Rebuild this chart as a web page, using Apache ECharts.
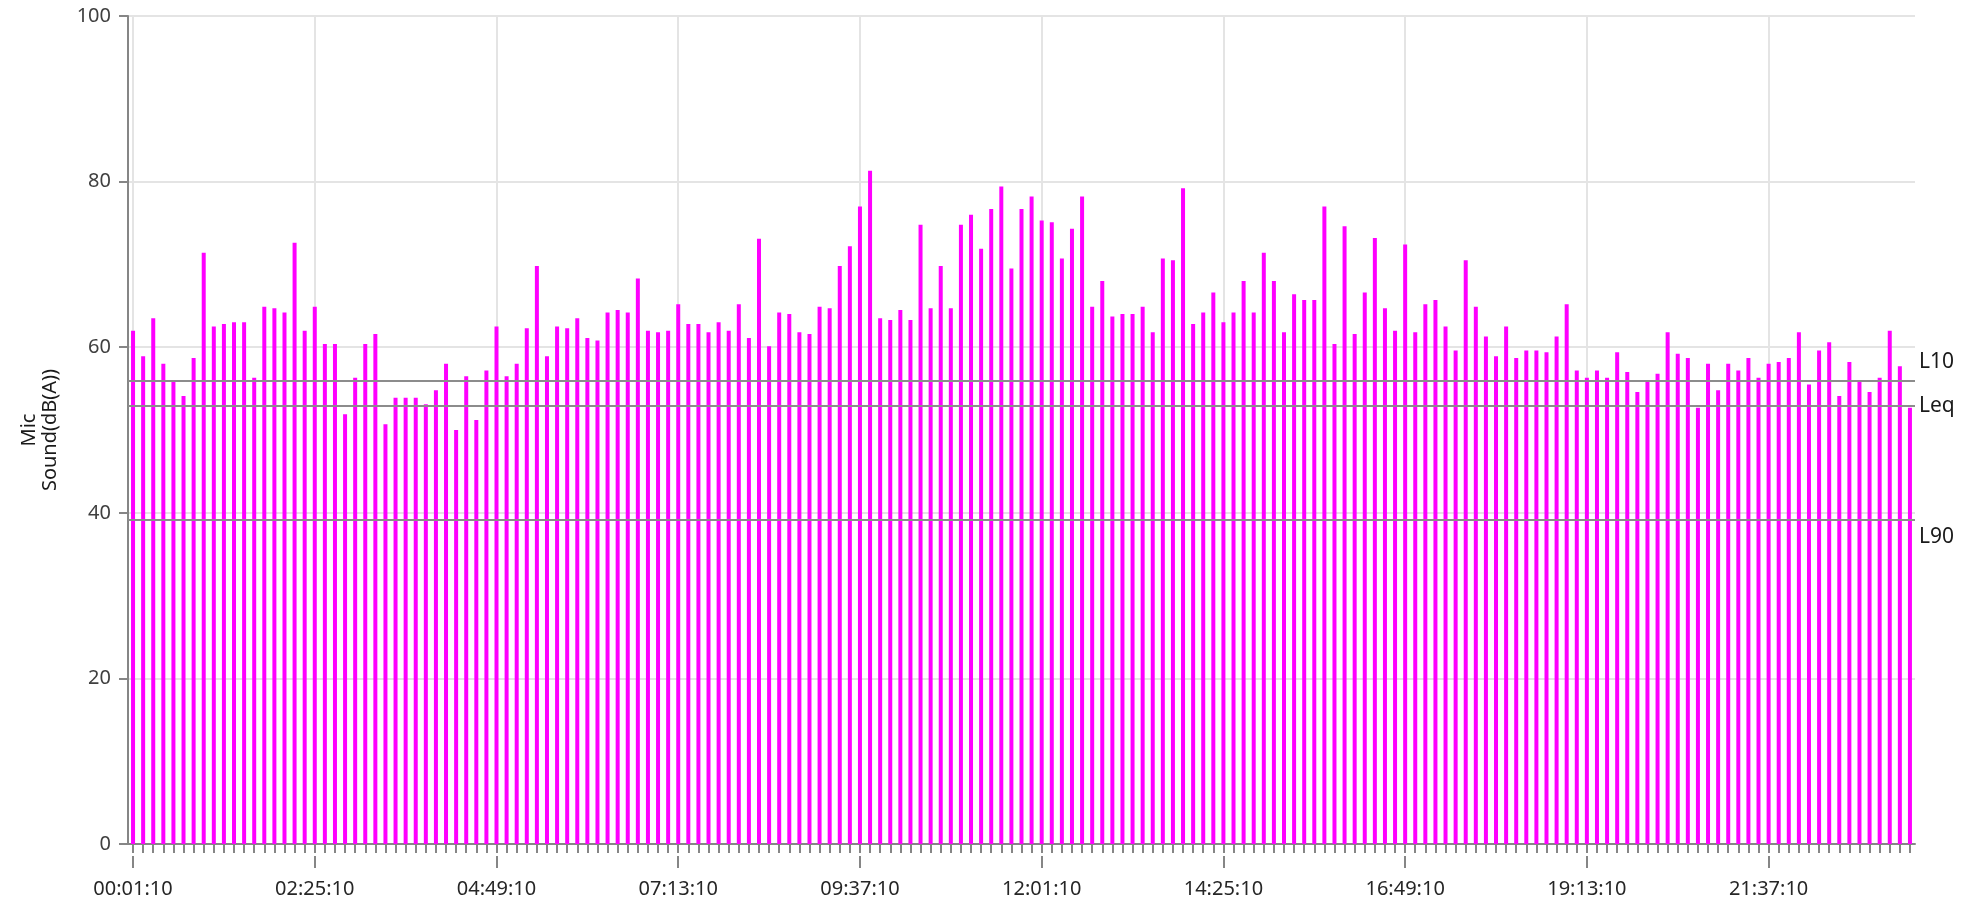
<!DOCTYPE html>
<html>
<head>
<meta charset="utf-8">
<script src="https://cdn.jsdelivr.net/npm/echarts@6/dist/echarts.min.js"></script>
<style>
  html, body { margin: 0; padding: 0; background: #ffffff; }
  #chart { width: 1971px; height: 901px; }
</style>
</head>
<body>
<div id="chart"></div>
<script>
// Sound level log, one reading every 8 minutes starting 00:01:10
const startTime = '00:01:10';
const stepMinutes = 8;

// Labelled time ticks (every 18th reading)
const tickLabels = ['00:01:10', '02:25:10', '04:49:10', '07:13:10', '09:37:10',
  '12:01:10', '14:25:10', '16:49:10', '19:13:10', '21:37:10'];

// Sound level per reading, dB(A)
const soundLevels = [
  62.0, 58.9, 63.5, 58.0, 55.8, 54.1, 58.7, 71.4, 62.5, 62.8,
  63.0, 63.0, 56.3, 64.9, 64.7, 64.2, 72.6, 62.0, 64.9, 60.4,
  60.4, 51.9, 56.3, 60.4, 61.6, 50.7, 53.9, 53.9, 53.9, 53.1,
  54.8, 58.0, 50.0, 56.5, 51.2, 57.2, 62.5, 56.5, 58.0, 62.3,
  69.8, 58.9, 62.5, 62.3, 63.5, 61.1, 60.8, 64.2, 64.5, 64.2,
  68.3, 62.0, 61.8, 62.0, 65.2, 62.8, 62.8, 61.8, 63.0, 62.0,
  65.2, 61.1, 73.1, 60.1, 64.2, 64.0, 61.8, 61.6, 64.9, 64.7,
  69.8, 72.2, 77.0, 81.3, 63.5, 63.3, 64.5, 63.3, 74.8, 64.7,
  69.8, 64.7, 74.8, 76.0, 71.9, 76.7, 79.4, 69.5, 76.7, 78.2,
  75.3, 75.1, 70.7, 74.3, 78.2, 64.9, 68.0, 63.7, 64.0, 64.0,
  64.9, 61.8, 70.7, 70.5, 79.2, 62.8, 64.2, 66.6, 63.0, 64.2,
  68.0, 64.2, 71.4, 68.0, 61.8, 66.4, 65.7, 65.7, 77.0, 60.4,
  74.6, 61.6, 66.6, 73.2, 64.7, 62.0, 72.4, 61.8, 65.2, 65.7,
  62.5, 59.6, 70.5, 64.9, 61.3, 58.9, 62.5, 58.7, 59.6, 59.6,
  59.4, 61.3, 65.2, 57.2, 56.3, 57.2, 56.3, 59.4, 57.0, 54.6,
  55.8, 56.8, 61.8, 59.2, 58.7, 52.7, 58.0, 54.8, 58.0, 57.2,
  58.7, 56.3, 58.0, 58.2, 58.7, 61.8, 55.5, 59.6, 60.6, 54.1,
  58.2, 55.8, 54.6, 56.3, 62.0, 57.7, 52.7
];

// Statistical levels drawn as horizontal reference lines
const levelNames = ['L10', 'Leq', 'L90'];
const levelValues = [56.0, 52.9, 39.2];

// Build the time category for each reading
function buildTimes(start, step, count) {
  const p = start.split(':').map(Number);
  let secs = p[0] * 3600 + p[1] * 60 + p[2];
  const out = [];
  const pad = n => String(n).padStart(2, '0');
  for (let i = 0; i < count; i++) {
    const s = secs % 86400;
    out.push(pad(Math.floor(s / 3600)) + ':' + pad(Math.floor(s / 60) % 60) + ':' + pad(s % 60));
    secs += step * 60;
  }
  return out;
}
const times = buildTimes(startTime, stepMinutes, soundLevels.length);

const FONT = "'Noto Sans', 'Open Sans', sans-serif";
const AXIS_GRAY = '#868686';
const GRID_GRAY = '#e4e4e4';
const REF_GRAY = '#8c8c8c';

// Reference-line labels: L10 sits above its line, Leq on it, L90 below it
const levelFormat = [n => n + '\n ', n => n, n => ' \n' + n];

const chart = echarts.init(document.getElementById('chart'), null, { renderer: 'canvas' });

chart.setOption({
  animation: false,
  backgroundColor: '#ffffff',
  textStyle: { fontFamily: FONT },
  grid: { left: 128, right: 56, top: 16, bottom: 57, containLabel: false },
  xAxis: [
    {
      // minor ticks at every reading
      type: 'category',
      data: times,
      boundaryGap: true,
      axisLine: { show: true, lineStyle: { color: AXIS_GRAY, width: 2 } },
      axisTick: { show: true, interval: 0, alignWithLabel: true, length: 9,
        lineStyle: { color: AXIS_GRAY, width: 2 } },
      axisLabel: { show: false },
      splitLine: { show: false }
    },
    {
      // major ticks and time labels
      type: 'category',
      data: times,
      boundaryGap: true,
      position: 'bottom',
      offset: 12,
      axisLine: { show: false },
      axisTick: { show: true, interval: 17, alignWithLabel: true, length: 12,
        lineStyle: { color: AXIS_GRAY, width: 2 } },
      axisLabel: { show: true, interval: 17, margin: 23, fontSize: 20,
        color: '#262626', fontFamily: FONT },
      splitLine: { show: false }
    }
  ],
  yAxis: {
    type: 'value',
    min: 0,
    max: 100,
    interval: 20,
    name: 'Mic\nSound(dB(A))',
    nameLocation: 'middle',
    nameRotate: 90,
    nameGap: 67,
    nameTextStyle: { fontSize: 20, color: '#1a1a1a', lineHeight: 21, fontFamily: FONT },
    axisLine: { show: true, lineStyle: { color: AXIS_GRAY, width: 2 } },
    axisTick: { show: true, length: 9, lineStyle: { color: AXIS_GRAY, width: 2 } },
    axisLabel: { margin: 17, fontSize: 20, color: '#404040', fontFamily: FONT },
    splitLine: { show: true, lineStyle: { color: GRID_GRAY, width: 2 } }
  },
  series: [
    {
      // vertical grid lines at the labelled times, kept behind the bars
      name: 'timeGrid',
      type: 'line',
      xAxisIndex: 0,
      data: [],
      silent: true,
      markLine: {
        z: 1,
        silent: true,
        symbol: 'none',
        label: { show: false },
        lineStyle: { color: GRID_GRAY, width: 2, type: 'solid' },
        emphasis: { disabled: true },
        data: tickLabels.map(t => ({ xAxis: t }))
      }
    },
    {
      name: 'Sound',
      type: 'bar',
      xAxisIndex: 0,
      data: soundLevels,
      barWidth: 4,
      z: 2,
      itemStyle: { color: '#ff00ff' },
      markLine: {
        z: 5,
        silent: true,
        symbol: 'none',
        lineStyle: { color: REF_GRAY, width: 2, type: 'solid' },
        emphasis: { disabled: true },
        data: levelNames.map((n, i) => ({
          name: n,
          yAxis: levelValues[i],
          label: {
            show: true,
            position: 'end',
            distance: 4,
            formatter: levelFormat[i](n),
            fontSize: 21,
            lineHeight: 36,
            color: '#1a1a1a',
            fontFamily: FONT
          }
        }))
      }
    }
  ]
});
</script>
</body>
</html>
